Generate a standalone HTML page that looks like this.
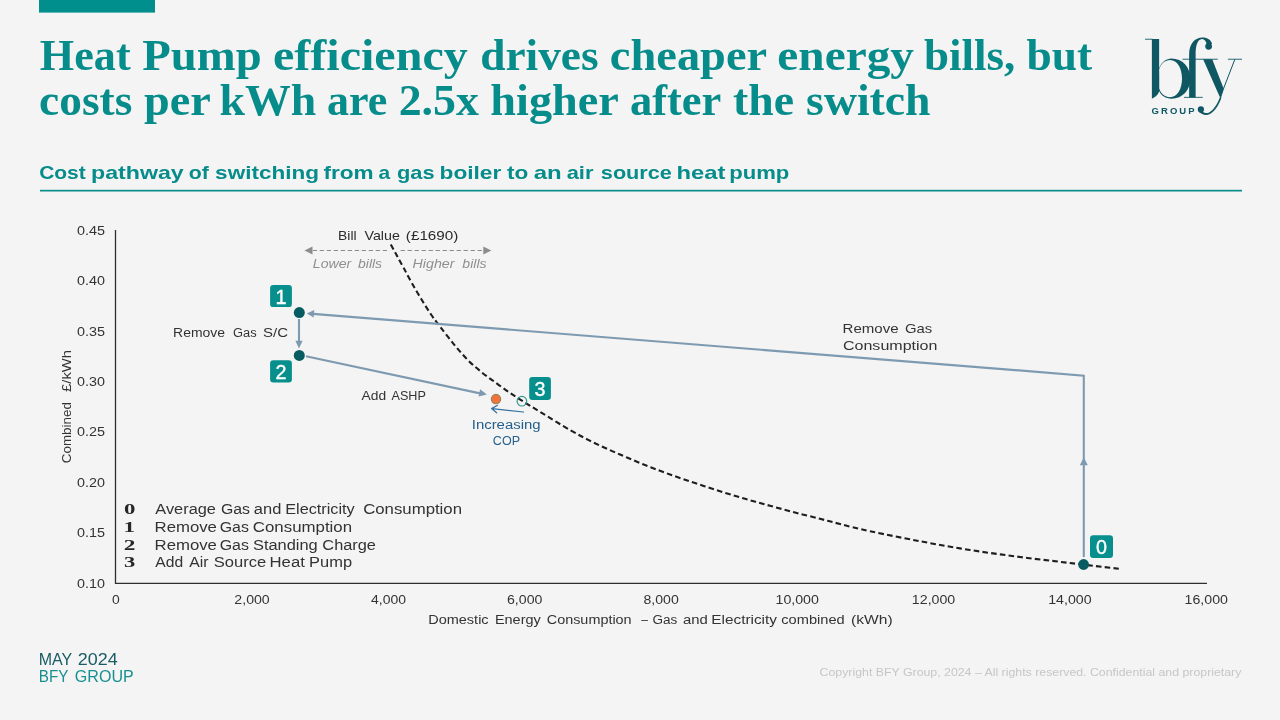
<!DOCTYPE html>
<html lang="en">
<head>
<meta charset="utf-8">
<title>Heat Pump efficiency drives cheaper energy bills</title>
<style>
  html, body { margin: 0; padding: 0; background: #f4f4f4; }
  body { width: 1280px; height: 720px; overflow: hidden; position: relative;
         font-family: "Liberation Sans", sans-serif; }
  svg { position: absolute; left: 0; top: 0; display: block; will-change: transform; }
  text { font-family: "Liberation Sans", sans-serif; white-space: pre; }
  .serif { font-family: "Liberation Serif", serif; }
  .badge { fill: #078f8d; }
  .bnum { font-size: 19.6px; fill: #ffffff; text-anchor: middle; stroke: #ffffff; stroke-width: 0.35; }
  .path { stroke: #7e9ab0; stroke-width: 2.1; fill: none; }
  .ahead { fill: #7e9ab0; stroke: none; }
</style>
</head>
<body>
<svg width="1280" height="720" viewBox="0 0 1280 720">
  <rect x="0" y="0" width="1280" height="720" fill="#f4f4f4"/>
  <g id="header">
    <rect x="39" y="0" width="116" height="12.6" fill="#008f8c"/>
    <text class="serif" x="39.84" y="69.8" font-size="43.8" fill="#068c8a" textLength="90.8" lengthAdjust="spacingAndGlyphs" font-weight="bold">Heat</text>
    <text class="serif" x="142.3" y="69.8" font-size="43.8" fill="#068c8a" textLength="119.39" lengthAdjust="spacingAndGlyphs" font-weight="bold">Pump</text>
    <text class="serif" x="273.06" y="69.8" font-size="43.8" fill="#068c8a" textLength="194.68" lengthAdjust="spacingAndGlyphs" font-weight="bold">efficiency</text>
    <text class="serif" x="480.19" y="69.8" font-size="43.8" fill="#068c8a" textLength="118.41" lengthAdjust="spacingAndGlyphs" font-weight="bold">drives</text>
    <text class="serif" x="609.86" y="69.8" font-size="43.8" fill="#068c8a" textLength="157.27" lengthAdjust="spacingAndGlyphs" font-weight="bold">cheaper</text>
    <text class="serif" x="777.33" y="69.8" font-size="43.8" fill="#068c8a" textLength="136.66" lengthAdjust="spacingAndGlyphs" font-weight="bold">energy</text>
    <text class="serif" x="924.05" y="69.8" font-size="43.8" fill="#068c8a" textLength="91.27" lengthAdjust="spacingAndGlyphs" font-weight="bold">bills,</text>
    <text class="serif" x="1026.55" y="69.8" font-size="43.8" fill="#068c8a" textLength="65.59" lengthAdjust="spacingAndGlyphs" font-weight="bold">but</text>
    <text class="serif" x="39.14" y="114.9" font-size="43.8" fill="#068c8a" textLength="93.21" lengthAdjust="spacingAndGlyphs" font-weight="bold">costs</text>
    <text class="serif" x="144.04" y="114.9" font-size="43.8" fill="#068c8a" textLength="66.84" lengthAdjust="spacingAndGlyphs" font-weight="bold">per</text>
    <text class="serif" x="219.58" y="114.9" font-size="43.8" fill="#068c8a" textLength="96.68" lengthAdjust="spacingAndGlyphs" font-weight="bold">kWh</text>
    <text class="serif" x="326.93" y="114.9" font-size="43.8" fill="#068c8a" textLength="60.37" lengthAdjust="spacingAndGlyphs" font-weight="bold">are</text>
    <text class="serif" x="398.66" y="114.9" font-size="43.8" fill="#068c8a" textLength="80.32" lengthAdjust="spacingAndGlyphs" font-weight="bold">2.5x</text>
    <text class="serif" x="490.32" y="114.9" font-size="43.8" fill="#068c8a" textLength="128.55" lengthAdjust="spacingAndGlyphs" font-weight="bold">higher</text>
    <text class="serif" x="629.91" y="114.9" font-size="43.8" fill="#068c8a" textLength="91.42" lengthAdjust="spacingAndGlyphs" font-weight="bold">after</text>
    <text class="serif" x="733.06" y="114.9" font-size="43.8" fill="#068c8a" textLength="61.03" lengthAdjust="spacingAndGlyphs" font-weight="bold">the</text>
    <text class="serif" x="806.13" y="114.9" font-size="43.8" fill="#068c8a" textLength="124.38" lengthAdjust="spacingAndGlyphs" font-weight="bold">switch</text>
    <text x="39.16" y="178.8" font-size="18.2" fill="#068c8a" textLength="46.61" lengthAdjust="spacingAndGlyphs" font-weight="bold">Cost</text>
    <text x="90.99" y="178.8" font-size="18.2" fill="#068c8a" textLength="92.78" lengthAdjust="spacingAndGlyphs" font-weight="bold">pathway</text>
    <text x="188.66" y="178.8" font-size="18.2" fill="#068c8a" textLength="20.05" lengthAdjust="spacingAndGlyphs" font-weight="bold">of</text>
    <text x="215.11" y="178.8" font-size="18.2" fill="#068c8a" textLength="103.87" lengthAdjust="spacingAndGlyphs" font-weight="bold">switching</text>
    <text x="323.41" y="178.8" font-size="18.2" fill="#068c8a" textLength="50.12" lengthAdjust="spacingAndGlyphs" font-weight="bold">from</text>
    <text x="378.48" y="178.8" font-size="18.2" fill="#068c8a" textLength="11.64" lengthAdjust="spacingAndGlyphs" font-weight="bold">a</text>
    <text x="396.93" y="178.8" font-size="18.2" fill="#068c8a" textLength="37.61" lengthAdjust="spacingAndGlyphs" font-weight="bold">gas</text>
    <text x="439.52" y="178.8" font-size="18.2" fill="#068c8a" textLength="61.8" lengthAdjust="spacingAndGlyphs" font-weight="bold">boiler</text>
    <text x="506.97" y="178.8" font-size="18.2" fill="#068c8a" textLength="21.34" lengthAdjust="spacingAndGlyphs" font-weight="bold">to</text>
    <text x="533.8" y="178.8" font-size="18.2" fill="#068c8a" textLength="27.96" lengthAdjust="spacingAndGlyphs" font-weight="bold">an</text>
    <text x="566.65" y="178.8" font-size="18.2" fill="#068c8a" textLength="26.76" lengthAdjust="spacingAndGlyphs" font-weight="bold">air</text>
    <text x="600.84" y="178.8" font-size="18.2" fill="#068c8a" textLength="71.08" lengthAdjust="spacingAndGlyphs" font-weight="bold">source</text>
    <text x="676.55" y="178.8" font-size="18.2" fill="#068c8a" textLength="48.94" lengthAdjust="spacingAndGlyphs" font-weight="bold">heat</text>
    <text x="729.16" y="178.8" font-size="18.2" fill="#068c8a" textLength="60.14" lengthAdjust="spacingAndGlyphs" font-weight="bold">pump</text>
    <rect x="40" y="189.8" width="1202" height="1.7" fill="#068c8a"/>
  </g>
  <g id="logo" transform="translate(1140,32) scale(0.125)" fill="#0e5763" stroke="none">
    <!-- b -->
    <rect x="40" y="54" width="60" height="7"/>
    <path d="M95,56 L153,56 L153,470 C150,500 122,520 95,534 Z"/>
    <path fill-rule="evenodd" d="M153,288 C172,240 210,211 252,211 C340,211 403,280 403,372 C403,466 340,533 252,533 C206,533 170,510 150,468 Z M153,300 C166,252 200,223 240,223 C300,223 336,290 336,372 C336,455 300,521 240,521 C200,521 166,492 153,452 Z"/>
    <!-- f -->
    <path d="M393,524 L393,180 C393,95 438,44 500,44 C540,44 568,62 577,95 L535,100 C528,68 508,55 490,57 C460,62 445,105 445,180 L445,524 Z"/>
    <circle cx="549" cy="114" r="27"/>
    <rect x="352" y="519" width="150" height="7"/>
    <rect x="340" y="214" width="282" height="7"/>
    <!-- y -->
    <path d="M505,218 L578,218 L669,451 L642,528 Z"/>
    <rect x="703" y="214" width="113" height="7"/>
    <path d="M759,218 L669,451 L645,524" fill="none" stroke="#0e5763" stroke-width="8" stroke-linejoin="round"/>
    <path d="M640,520 L652,524 C632,585 600,632 560,656 C530,670 495,664 470,636 L492,628 C510,650 535,652 553,644 C590,622 620,575 640,520 Z"/>
    <circle cx="487" cy="619" r="25"/>
    <!-- GROUP -->
    <text x="92" y="654" font-size="76" font-weight="bold" fill="#0e5763" textLength="345" lengthAdjust="spacing" style="font-family:'Liberation Sans',sans-serif">GROUP</text>
  </g>
  <g id="axes">
    <path d="M115.5,230 L115.5,583.4 L1207,583.4" fill="none" stroke="#2e2e2e" stroke-width="1.3"/>
    <g class="tick">
    <text x="77.0" y="234.8" font-size="12.3" fill="#333333" textLength="28.0" lengthAdjust="spacingAndGlyphs">0.45</text>
    <text x="77.0" y="285.21" font-size="12.3" fill="#333333" textLength="27.92" lengthAdjust="spacingAndGlyphs">0.40</text>
    <text x="77.0" y="335.62" font-size="12.3" fill="#333333" textLength="28.0" lengthAdjust="spacingAndGlyphs">0.35</text>
    <text x="77.0" y="386.03" font-size="12.3" fill="#333333" textLength="27.92" lengthAdjust="spacingAndGlyphs">0.30</text>
    <text x="77.0" y="436.44" font-size="12.3" fill="#333333" textLength="28.0" lengthAdjust="spacingAndGlyphs">0.25</text>
    <text x="77.0" y="486.85" font-size="12.3" fill="#333333" textLength="27.92" lengthAdjust="spacingAndGlyphs">0.20</text>
    <text x="77.0" y="537.26" font-size="12.3" fill="#333333" textLength="28.0" lengthAdjust="spacingAndGlyphs">0.15</text>
    <text x="77.0" y="587.67" font-size="12.3" fill="#333333" textLength="27.92" lengthAdjust="spacingAndGlyphs">0.10</text>
    <text x="111.94" y="603.8" font-size="12.3" fill="#333333" textLength="7.74" lengthAdjust="spacingAndGlyphs">0</text>
    <text x="234.33" y="603.8" font-size="12.3" fill="#333333" textLength="35.42" lengthAdjust="spacingAndGlyphs">2,000</text>
    <text x="371.1" y="603.8" font-size="12.3" fill="#333333" textLength="34.99" lengthAdjust="spacingAndGlyphs">4,000</text>
    <text x="507.01" y="603.8" font-size="12.3" fill="#333333" textLength="35.42" lengthAdjust="spacingAndGlyphs">6,000</text>
    <text x="643.5" y="603.8" font-size="12.3" fill="#333333" textLength="35.27" lengthAdjust="spacingAndGlyphs">8,000</text>
    <text x="775.54" y="603.8" font-size="12.3" fill="#333333" textLength="43.38" lengthAdjust="spacingAndGlyphs">10,000</text>
    <text x="911.88" y="603.8" font-size="12.3" fill="#333333" textLength="43.38" lengthAdjust="spacingAndGlyphs">12,000</text>
    <text x="1048.22" y="603.8" font-size="12.3" fill="#333333" textLength="43.38" lengthAdjust="spacingAndGlyphs">14,000</text>
    <text x="1184.56" y="603.8" font-size="12.3" fill="#333333" textLength="43.38" lengthAdjust="spacingAndGlyphs">16,000</text>
    </g>
    <text x="428.24" y="623.7" font-size="12.3" fill="#333333" textLength="60.37" lengthAdjust="spacingAndGlyphs">Domestic</text>
    <text x="494.94" y="623.7" font-size="12.3" fill="#333333" textLength="45.81" lengthAdjust="spacingAndGlyphs">Energy</text>
    <text x="546.78" y="623.7" font-size="12.3" fill="#333333" textLength="84.85" lengthAdjust="spacingAndGlyphs">Consumption</text>
    <text x="641.25" y="623.7" font-size="12.3" fill="#333333" textLength="6.7" lengthAdjust="spacingAndGlyphs">–</text>
    <text x="652.57" y="623.7" font-size="12.3" fill="#333333" textLength="24.8" lengthAdjust="spacingAndGlyphs">Gas</text>
    <text x="683.01" y="623.7" font-size="12.3" fill="#333333" textLength="24.8" lengthAdjust="spacingAndGlyphs">and</text>
    <text x="711.27" y="623.7" font-size="12.3" fill="#333333" textLength="65.73" lengthAdjust="spacingAndGlyphs">Electricity</text>
    <text x="781.32" y="623.7" font-size="12.3" fill="#333333" textLength="63.33" lengthAdjust="spacingAndGlyphs">combined</text>
    <text x="851.07" y="623.7" font-size="12.3" fill="#333333" textLength="41.54" lengthAdjust="spacingAndGlyphs">(kWh)</text>
    <g transform="translate(71.2,462.5) rotate(-90)">
    <text x="-0.67" y="0" font-size="12.3" fill="#333333" textLength="60.99" lengthAdjust="spacingAndGlyphs">Combined</text>
    <text x="70.63" y="0" font-size="12.3" fill="#333333" textLength="41.77" lengthAdjust="spacingAndGlyphs">£/kWh</text>
    </g>
  </g>
  <g id="chart">
    <g stroke="#8c8c8c" stroke-width="1.2" stroke-dasharray="4.3 2.7" fill="none"><path d="M387,250.5 L311,250.5"/><path d="M400.6,250.5 L485,250.5"/></g>
    <path d="M304.5,250.5 L312.5,246.6 L312.5,254.4 Z M491.3,250.5 L483.3,246.6 L483.3,254.4 Z" fill="#8c8c8c"/>
    <path d="M390.8,244.6 C391.8,246.4 394.6,251.4 396.7,255.3 C398.8,259.2 401.1,263.2 403.6,267.8 C406.1,272.4 408.9,277.8 411.9,283.1 C414.9,288.4 418.4,294.4 421.7,299.7 C424.9,305.0 428.3,310.5 431.4,315.0 C434.4,319.5 436.2,321.6 440.0,326.5 C443.8,331.4 449.3,338.7 453.9,344.3 C458.5,349.9 463.2,355.3 467.8,360.0 C472.4,364.7 477.1,368.5 481.7,372.3 C486.3,376.1 491.0,379.2 495.6,382.6 C500.2,386.0 505.0,389.5 509.4,392.5 C513.8,395.5 516.8,397.4 521.9,400.6 C527.0,403.8 532.0,406.9 540.0,411.8 C548.0,416.7 560.8,424.8 570.0,430.0 C579.2,435.2 586.7,439.2 595.0,443.2 C603.3,447.3 611.7,450.9 620.0,454.5 C628.3,458.1 636.7,461.7 645.0,465.0 C653.3,468.3 661.7,471.5 670.0,474.5 C678.3,477.5 686.7,480.2 695.0,483.0 C703.3,485.8 711.7,488.6 720.0,491.2 C728.3,493.9 736.7,496.3 745.0,498.8 C753.3,501.2 761.7,503.5 770.0,505.8 C778.3,508.0 786.7,510.3 795.0,512.5 C803.3,514.7 812.5,516.8 820.0,518.8 C827.5,520.7 831.7,521.9 840.0,524.0 C848.3,526.1 856.7,528.4 870.0,531.2 C883.3,534.1 903.3,538.1 920.0,541.2 C936.7,544.4 953.3,547.4 970.0,550.0 C986.7,552.6 1003.3,554.8 1020.0,557.0 C1036.7,559.2 1053.5,561.0 1070.0,563.0 C1086.5,565.0 1110.6,567.8 1118.8,568.8" fill="none" stroke="#1e1e1e" stroke-width="2.1" stroke-dasharray="5.6 3.2"/>
    <path class="path" d="M1083.8,557 L1083.8,375.6 L313,313.9"/>
    <path class="ahead" d="M1083.8,457.3 L1087.8,465.3 L1079.8,465.3 Z"/>
    <path class="ahead" d="M306.8,313.4 L314.3,310 L313.7,317.6 Z"/>
    <path class="path" d="M299,319 L299,342"/>
    <path class="ahead" d="M299,348.6 L295.4,340.8 L302.6,340.8 Z"/>
    <path class="path" d="M306,356.3 L480,393.4"/>
    <path class="ahead" d="M486.9,394.4 L478.6,396.4 L480.1,389.2 Z"/>
    <path d="M523.5,412 L492,408.7 M497.5,405.3 L491.6,408.6 L496.6,412.8" fill="none" stroke="#3572a0" stroke-width="1.25" stroke-linecap="round" stroke-linejoin="round"/>
    <circle cx="1083.6" cy="564.5" r="5.4" fill="#075c62"/>
    <circle cx="299.3" cy="312.6" r="5.5" fill="#075c62"/>
    <circle cx="299.3" cy="355.4" r="5.5" fill="#075c62"/>
    <circle cx="496" cy="399.1" r="4.7" fill="#f4733a" stroke="#94845c" stroke-width="1.1"/>
    <circle cx="521.9" cy="401.2" r="4.8" fill="none" stroke="#2f978f" stroke-width="1.2"/>
    <rect class="badge" x="270.1" y="285" width="21.8" height="22.1" rx="3.2"/><text class="bnum" x="281" y="303.9" textLength="11" lengthAdjust="spacingAndGlyphs">1</text><rect x="276.9" y="302.2" width="8.4" height="1.7" fill="#ffffff"/>
    <rect class="badge" x="270.1" y="360.2" width="21.8" height="22.2" rx="3.2"/><text class="bnum" x="281" y="378.5" textLength="11" lengthAdjust="spacingAndGlyphs">2</text>
    <rect class="badge" x="529.2" y="376.9" width="21.7" height="23.1" rx="3.2"/><text class="bnum" x="540" y="395.9" textLength="11" lengthAdjust="spacingAndGlyphs">3</text>
    <rect class="badge" x="1090" y="535.2" width="23" height="22.8" rx="3.2"/><text class="bnum" x="1101.5" y="553.8" textLength="11" lengthAdjust="spacingAndGlyphs">0</text>
    <text x="338.14" y="240" font-size="13.6" fill="#2b2b2b" textLength="18.47" lengthAdjust="spacingAndGlyphs">Bill</text>
    <text x="364.5" y="240" font-size="13.6" fill="#2b2b2b" textLength="35.34" lengthAdjust="spacingAndGlyphs">Value</text>
    <text x="405.84" y="240" font-size="13.6" fill="#2b2b2b" textLength="52.55" lengthAdjust="spacingAndGlyphs">(£1690)</text>
    <text x="312.83" y="268" font-size="13.6" fill="#8f8f8f" textLength="38.4" lengthAdjust="spacingAndGlyphs" font-style="italic">Lower</text>
    <text x="358.11" y="268" font-size="13.6" fill="#8f8f8f" textLength="23.92" lengthAdjust="spacingAndGlyphs" font-style="italic">bills</text>
    <text x="412.57" y="268" font-size="13.6" fill="#8f8f8f" textLength="41.9" lengthAdjust="spacingAndGlyphs" font-style="italic">Higher</text>
    <text x="462.36" y="268" font-size="13.6" fill="#8f8f8f" textLength="24.17" lengthAdjust="spacingAndGlyphs" font-style="italic">bills</text>
    <text x="173.13" y="336.8" font-size="12.3" fill="#333333" textLength="51.94" lengthAdjust="spacingAndGlyphs">Remove</text>
    <text x="233.11" y="336.8" font-size="12.3" fill="#333333" textLength="23.59" lengthAdjust="spacingAndGlyphs">Gas</text>
    <text x="263.08" y="336.8" font-size="12.3" fill="#333333" textLength="24.98" lengthAdjust="spacingAndGlyphs">S/C</text>
    <text x="361.5" y="399.8" font-size="12.3" fill="#333333" textLength="24.6" lengthAdjust="spacingAndGlyphs">Add</text>
    <text x="391.5" y="399.8" font-size="12.3" fill="#333333" textLength="34.41" lengthAdjust="spacingAndGlyphs">ASHP</text>
    <text x="842.55" y="332.5" font-size="13.6" fill="#333333" textLength="56.07" lengthAdjust="spacingAndGlyphs">Remove</text>
    <text x="905.01" y="332.5" font-size="13.6" fill="#333333" textLength="27.26" lengthAdjust="spacingAndGlyphs">Gas</text>
    <text x="842.95" y="349.5" font-size="13.6" fill="#333333" textLength="94.53" lengthAdjust="spacingAndGlyphs">Consumption</text>
    <text x="471.76" y="428.8" font-size="12.3" fill="#245f8b" textLength="68.86" lengthAdjust="spacingAndGlyphs">Increasing</text>
    <text x="492.87" y="444.6" font-size="12.3" fill="#245f8b" textLength="27.18" lengthAdjust="spacingAndGlyphs">COP</text>
  </g>
  <g id="legend">
    <text class="serif" x="123.9" y="514.4" font-size="15.2" fill="#262626" textLength="11.4" lengthAdjust="spacingAndGlyphs" font-weight="bold">0</text>
    <text class="serif" x="123.56" y="531.6" font-size="15.2" fill="#262626" textLength="11.49" lengthAdjust="spacingAndGlyphs" font-weight="bold">1</text>
    <text class="serif" x="123.77" y="549.6" font-size="15.2" fill="#262626" textLength="11.67" lengthAdjust="spacingAndGlyphs" font-weight="bold">2</text>
    <text class="serif" x="123.91" y="566.75" font-size="15.2" fill="#262626" textLength="11.26" lengthAdjust="spacingAndGlyphs" font-weight="bold">3</text>
    <text x="155.3" y="514.4" font-size="14.9" fill="#333333" textLength="60.67" lengthAdjust="spacingAndGlyphs">Average</text>
    <text x="220.91" y="514.4" font-size="14.9" fill="#333333" textLength="29.05" lengthAdjust="spacingAndGlyphs">Gas</text>
    <text x="253.84" y="514.4" font-size="14.9" fill="#333333" textLength="27.47" lengthAdjust="spacingAndGlyphs">and</text>
    <text x="285.2" y="514.4" font-size="14.9" fill="#333333" textLength="69.5" lengthAdjust="spacingAndGlyphs">Electricity</text>
    <text x="363.16" y="514.4" font-size="14.9" fill="#333333" textLength="98.87" lengthAdjust="spacingAndGlyphs">Consumption</text>
    <text x="154.56" y="531.6" font-size="14.9" fill="#333333" textLength="62.38" lengthAdjust="spacingAndGlyphs">Remove</text>
    <text x="219.71" y="531.6" font-size="14.9" fill="#333333" textLength="29.15" lengthAdjust="spacingAndGlyphs">Gas</text>
    <text x="252.86" y="531.6" font-size="14.9" fill="#333333" textLength="99.17" lengthAdjust="spacingAndGlyphs">Consumption</text>
    <text x="154.56" y="549.6" font-size="14.9" fill="#333333" textLength="62.38" lengthAdjust="spacingAndGlyphs">Remove</text>
    <text x="219.71" y="549.6" font-size="14.9" fill="#333333" textLength="29.15" lengthAdjust="spacingAndGlyphs">Gas</text>
    <text x="252.96" y="549.6" font-size="14.9" fill="#333333" textLength="64.79" lengthAdjust="spacingAndGlyphs">Standing</text>
    <text x="322.38" y="549.6" font-size="14.9" fill="#333333" textLength="53.59" lengthAdjust="spacingAndGlyphs">Charge</text>
    <text x="155.3" y="566.75" font-size="14.9" fill="#333333" textLength="27.86" lengthAdjust="spacingAndGlyphs">Add</text>
    <text x="189.2" y="566.75" font-size="14.9" fill="#333333" textLength="19.31" lengthAdjust="spacingAndGlyphs">Air</text>
    <text x="213.76" y="566.75" font-size="14.9" fill="#333333" textLength="52.43" lengthAdjust="spacingAndGlyphs">Source</text>
    <text x="269.56" y="566.75" font-size="14.9" fill="#333333" textLength="35.28" lengthAdjust="spacingAndGlyphs">Heat</text>
    <text x="309.08" y="566.75" font-size="14.9" fill="#333333" textLength="42.99" lengthAdjust="spacingAndGlyphs">Pump</text>
  </g>
  <g id="footer">
    <text x="38.72" y="664.8" font-size="16.2" fill="#1a5c66" textLength="33.53" lengthAdjust="spacingAndGlyphs">MAY</text>
    <text x="77.85" y="664.8" font-size="16.2" fill="#1a5c66" textLength="39.86" lengthAdjust="spacingAndGlyphs">2024</text>
    <text x="38.78" y="681.7" font-size="16.2" fill="#169090" textLength="29.66" lengthAdjust="spacingAndGlyphs">BFY</text>
    <text x="74.8" y="681.7" font-size="16.2" fill="#169090" textLength="58.94" lengthAdjust="spacingAndGlyphs">GROUP</text>
    <text x="819.6" y="675.6" font-size="10.9" fill="#c6c6c6" textLength="421.8" lengthAdjust="spacingAndGlyphs">Copyright BFY Group, 2024 – All rights reserved. Confidential and proprietary</text>
  </g>
</svg>
</body>
</html>
